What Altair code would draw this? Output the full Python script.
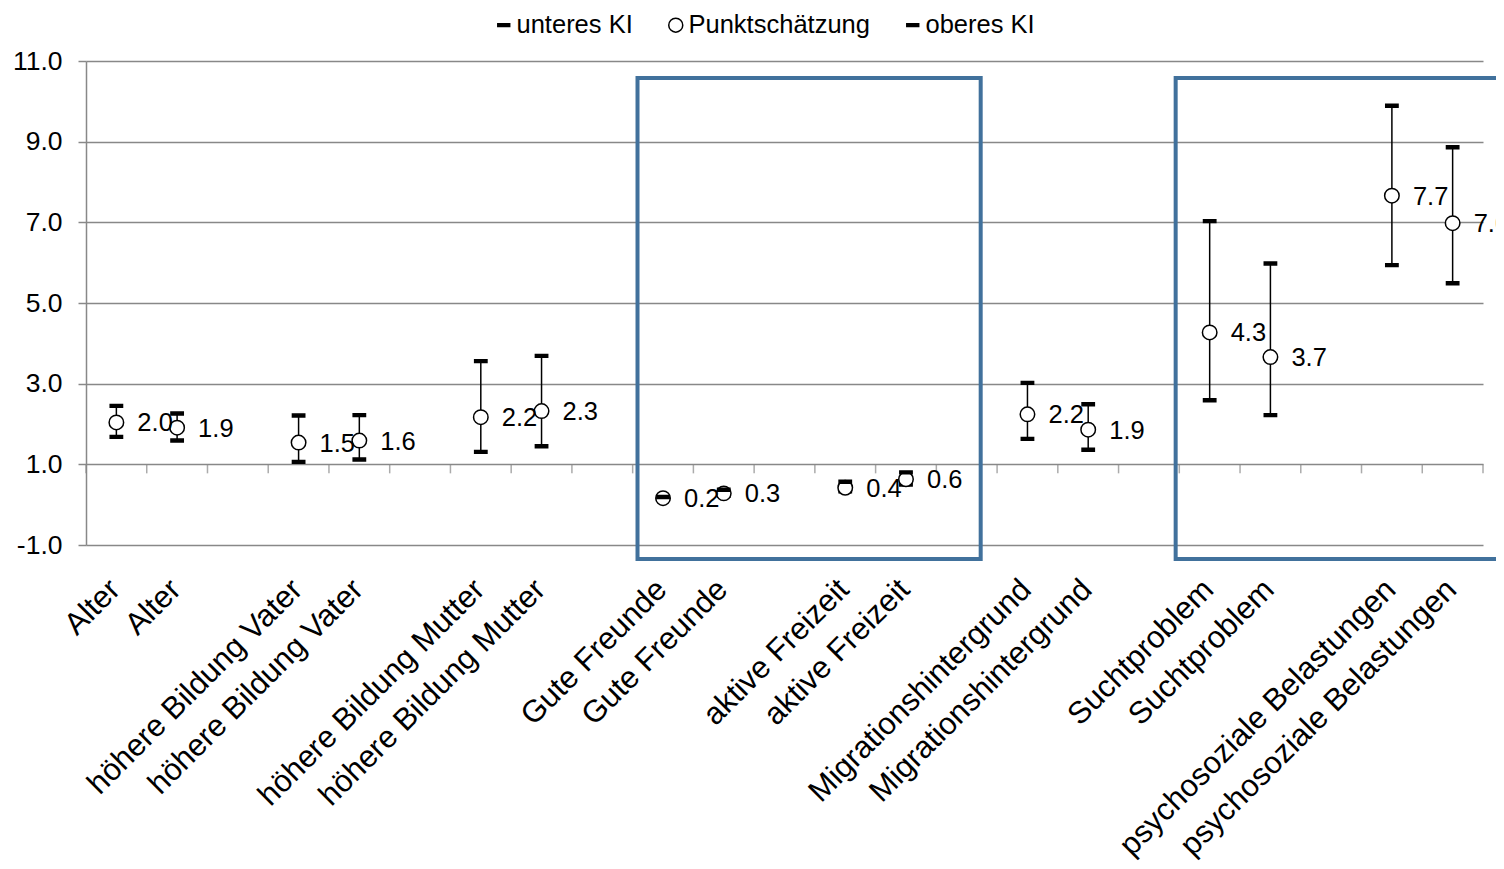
import altair as alt
import pandas as pd

# 23 category slots (empty strings are the gaps between groups)
slots = ["Alter", "Alter", "",
         "höhere Bildung Vater", "höhere Bildung Vater", "",
         "höhere Bildung Mutter", "höhere Bildung Mutter", "",
         "Gute Freunde", "Gute Freunde", "",
         "aktive Freizeit", "aktive Freizeit", "",
         "Migrationshintergrund", "Migrationshintergrund", "",
         "Suchtproblem", "Suchtproblem", "",
         "psychosoziale Belastungen", "psychosoziale Belastungen"]

punkt = [2.04, 1.91, 1.54, 1.59, 2.17, 2.32, 0.16, 0.28, 0.42, 0.63, 2.24, 1.86, 4.27, 3.66, 7.66, 6.98]
unten = [1.68, 1.59, 1.06, 1.12, 1.31, 1.45, 0.13, 0.22, 0.33, 0.50, 1.63, 1.36, 2.59, 2.22, 5.94, 5.49]
oben = [2.45, 2.26, 2.21, 2.22, 3.56, 3.69, 0.19, 0.37, 0.57, 0.80, 3.02, 2.49, 7.03, 5.98, 9.89, 8.86]

series = ["unteres KI", "Punktschätzung", "oberes KI"]

# highlight boxes (in axis units)
box_x1 = [9.08, 17.94]
box_x2 = [14.73, 23.8]
box_top = [10.58, 10.58]
box_bottom = [-1.35, -1.35]

y_ticks = [-1, 1, 3, 5, 7, 9, 11]

FONT = "Liberation Sans"
GRID = "#888888"
BOX = "#41719C"
DASH = "M-0.85,-0.2H0.85V0.2H-0.85Z"

pos = [i + 0.5 for i, s in enumerate(slots) if s]
names = [s for s in slots if s]
df = pd.DataFrame({"pos": pos, "name": names, "punkt": punkt, "unten": unten, "oben": oben})
long = pd.concat([
    pd.DataFrame({"pos": pos, "value": unten, "series": series[0], "z": 0}),
    pd.DataFrame({"pos": pos, "value": punkt, "series": series[1], "z": 1}),
    pd.DataFrame({"pos": pos, "value": oben, "series": series[2], "z": 2}),
], ignore_index=True)
bounds = pd.DataFrame({"b": list(range(len(slots) + 1)), "y": 1.0})
boxes = pd.DataFrame({"x1": box_x1, "x2": box_x2, "top": box_top, "bottom": box_bottom})

xs = alt.Scale(domain=[0, len(slots)], nice=False, zero=False)
ys = alt.Scale(domain=[-1, 11], nice=False, zero=False)

label_arr = "[" + ",".join("'" + s + "'" for s in slots) + "]"

x_axis = alt.Axis(values=pos, labelExpr=label_arr + "[floor(datum.value)]",
                  domain=False, ticks=False, grid=False, labelAngle=-45,
                  labelAlign="right", labelBaseline="top",
                  labelFontSize=31, labelPadding=29, labelOffset=-12,
                  labelOverlap=False, labelLimit=2000,
                  labelBound=False, labelFlush=False, labelColor="black",
                  labelFont=FONT, title=None)
y_axis = alt.Axis(values=y_ticks,
                  labelExpr="(datum.value < 0 ? '-' : '') + format(abs(datum.value), '.1f')",
                  grid=True, gridColor=GRID,
                  gridWidth=1.5, tickSize=8, tickColor=GRID, tickWidth=1.5,
                  domainColor=GRID, domainWidth=1.5, labelFontSize=26.5,
                  labelPadding=16, labelColor="black", labelFont=FONT, title=None)

rules = alt.Chart(df).mark_rule(color="black", strokeWidth=1.5).encode(
    x=alt.X("pos:Q", scale=xs, axis=x_axis, title=None),
    y=alt.Y("unten:Q", scale=ys, axis=y_axis, title=None),
    y2="oben:Q",
)

ticks = alt.Chart(bounds).mark_tick(orient="vertical", size=9, yOffset=4.5,
                                     thickness=1.5, color=GRID).encode(
    x=alt.X("b:Q", scale=xs, title=None),
    y=alt.Y("y:Q", scale=ys, title=None),
)

legend = alt.Legend(title=None, labelLimit=1000)

points = alt.Chart(long).mark_point(size=210, opacity=1, strokeWidth=1.5,
                                    filled=True).encode(
    x=alt.X("pos:Q", scale=xs, title=None),
    y=alt.Y("value:Q", scale=ys, title=None),
    shape=alt.Shape("series:N", scale=alt.Scale(domain=series, range=[DASH, "circle", DASH]),
                    title=None, legend=legend),
    fill=alt.Fill("series:N", scale=alt.Scale(domain=series, range=["black", "white", "black"]),
                  title=None, legend=legend),
    stroke=alt.Stroke("series:N", scale=alt.Scale(domain=series, range=["black", "black", "black"]),
                      title=None, legend=legend),
    order=alt.Order("z:Q"),
)

texts = alt.Chart(df).mark_text(align="left", baseline="middle", dx=21, dy=1,
                                fontSize=25.5, font=FONT, color="black").encode(
    x=alt.X("pos:Q", scale=xs, title=None),
    y=alt.Y("punkt:Q", scale=ys, title=None),
    text=alt.Text("punkt:Q", format=".1f"),
)

rects = alt.Chart(boxes).mark_rect(fillOpacity=0, stroke=BOX, strokeWidth=4).encode(
    x=alt.X("x1:Q", scale=xs, title=None),
    x2="x2:Q",
    y=alt.Y("top:Q", scale=ys, title=None),
    y2="bottom:Q",
)

chart = alt.layer(rules, ticks, points, texts, rects).properties(
    width=1397, height=484,
    padding={"left": 78, "top": 53, "right": 13, "bottom": 316},
    autosize=alt.AutoSizeParams(type="none"),
).configure(font=FONT).configure_view(strokeWidth=0).configure_legend(
    orient="none", legendX=401, legendY=-49, direction="horizontal",
    labelFontSize=25.5, labelFont=FONT, labelColor="black",
    symbolSize=196, symbolStrokeWidth=1.5, symbolOffset=4,
    columnPadding=26, labelOffset=0, padding=0,
)

chart.save("out.html", embed_options={"renderer": "svg", "actions": False})
